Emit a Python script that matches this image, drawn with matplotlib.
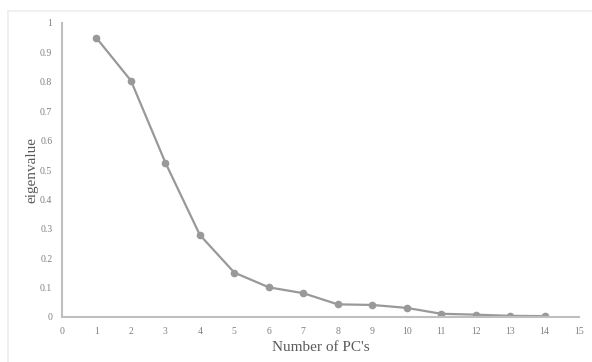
import matplotlib
matplotlib.use('Agg')
import matplotlib.pyplot as plt
from matplotlib.lines import Line2D

# scree values
pcs = [1, 2, 3, 4, 5, 6, 7, 8, 9, 10, 11, 12, 13, 14]
eigen = [0.949, 0.804, 0.525, 0.279, 0.151, 0.101, 0.081, 0.043, 0.041, 0.031, 0.011, 0.008, 0.004, 0.003]
xticks = list(range(0, 16))
yticks = [0, 0.1, 0.2, 0.3, 0.4, 0.5, 0.6, 0.7, 0.8, 0.9, 1]
ylabels = ['0', '0.1', '0.2', '0.3', '0.4', '0.5', '0.6', '0.7', '0.8', '0.9', '1']

plt.rcParams['font.family'] = ['Liberation Serif', 'DejaVu Serif']

fig = plt.figure(figsize=(5.92, 3.62), dpi=100, facecolor='white')
ax = fig.add_axes([62/592, 1 - 317/362, (579 - 62)/592, (317 - 23)/362])

ax.plot(pcs, eigen, color='#999999', linewidth=1.6, marker='o', markersize=4.5,
        markerfacecolor='#999999', markeredgecolor='#999999')

ax.set_xlim(0, 15)
ax.set_ylim(0, 1)
ax.set_xticks(xticks)
ax.set_yticks(yticks)
ax.set_yticklabels(ylabels)
ax.tick_params(axis='both', length=0, labelsize=7, colors='#808080', pad=7)

for s in ['top', 'right']:
    ax.spines[s].set_visible(False)
ax.spines['left'].set_color('#bfbfbf')
ax.spines['bottom'].set_color('#bfbfbf')
ax.spines['left'].set_linewidth(1.5)
ax.spines['bottom'].set_linewidth(1.5)

ax.set_xlabel("Number of PC's", fontsize=11, color='#595959', labelpad=4)
ax.set_ylabel('eigenvalue', fontsize=11, color='#595959', labelpad=1)

# light chart-area border, as in the original
fig.add_artist(Line2D([8/592, 8/592], [0, 1 - 11/362], transform=fig.transFigure,
                      color='#eeeeee', linewidth=1.2))
fig.add_artist(Line2D([8/592, 1], [1 - 11/362, 1 - 11/362], transform=fig.transFigure,
                      color='#eeeeee', linewidth=1.2))

plt.savefig('out.png', dpi=100, facecolor='white')
